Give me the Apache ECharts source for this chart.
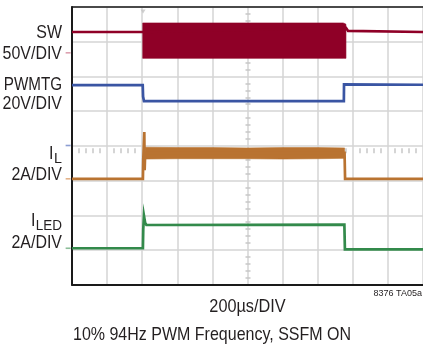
<!DOCTYPE html>
<html>
<head>
<meta charset="utf-8">
<script src="https://cdn.jsdelivr.net/npm/echarts@6/dist/echarts.min.js"></script>
<style>
html,body{margin:0;padding:0;background:#fff;}
#chart{width:423px;height:348px;}
</style>
</head>
<body>
<div id="chart"></div>
<script>
// ---- axis setup (time in µs, vertical in screen divisions) ----
const usPerDiv = 200;
const timeMin = 0, timeMax = 2000;
const divMin = 0, divMax = 8;
const triggerTime = 405;

// ---- SW (50V/DIV) ----
const swTime  = [0, 403, 1561, 1566, 1573, 1582, 2000];
const swLevel = [7.28, 7.28, 7.40, 7.38, 7.31, 7.28, 7.28];
const swBurstTime   = [403, 1545, 1556, 1561];
const swBurstTop    = [7.54, 7.54, 7.52, 7.50];
const swBurstBottom = [6.52, 6.52, 6.52, 6.52];
const swGround = 6.68;

// ---- PWMTG (20V/DIV) ----
const pwmTime  = [0, 403, 405, 410, 1549, 1550, 1554, 2000];
const pwmLevel = [5.75, 5.75, 5.42, 5.29, 5.29, 5.77, 5.76, 5.76];
const pwmGround = 4.01;

// ---- IL (2A/DIV) ----
const ilTime  = [0, 404, 406, 412, 414, 417, 1553, 1556, 2000];
const ilLevel = [3.05, 3.05, 3.60, 4.40, 3.30, 3.80, 3.80, 3.05, 3.05];
const ilBandTime   = [417, 600, 800, 1000, 1200, 1400, 1553];
const ilBandTop    = [3.96, 3.95, 3.95, 3.94, 3.95, 3.95, 3.94];
const ilBandBottom = [3.62, 3.63, 3.63, 3.63, 3.62, 3.63, 3.64];
const ilGround = 3.05;

// ---- ILED (2A/DIV) ----
const ledTime  = [0, 404, 406, 410, 413, 417, 424, 432, 1552, 1555, 2000];
const ledLevel = [1.05, 1.05, 1.60, 1.99, 1.95, 1.78, 1.72, 1.73, 1.73, 1.02, 1.02];
const ledGround = 1.05;

// ---- texts ----
const channelLabels = ['SW', '50V/DIV', 'PWMTG', '20V/DIV', 'I', 'L', '2A/DIV', 'I', 'LED', '2A/DIV'];
const xTitle = '200µs/DIV';
const caption = '10% 94Hz PWM Frequency, SSFM ON';
const figId = '8376 TA05a';

const colors = { sw: '#8f0027', pwm: '#3a55a3', il: '#b97331', led: '#338a4b' };
const markerColors = ['#d48a9c', '#6f86c8', '#dca06e', '#6fae80'];

const zip = (a, b) => a.map((v, i) => [v, b[i]]);

function lineSeries(t, v, color) {
  return {
    type: 'line', data: zip(t, v), showSymbol: false, symbol: 'none',
    lineStyle: { color: color, width: 2.7, join: 'miter' }, animation: false, z: 3
  };
}
function bandSeries(t, top, bottom, color) {
  return {
    type: 'custom', animation: false, z: 3,
    data: t.map((x, i) => [x, top[i], bottom[i]]),
    renderItem: function (params, api) {
      if (params.dataIndex !== 0) return null;
      const n = t.length, pts = [];
      for (let i = 0; i < n; i++) pts.push(api.coord([api.value(0, i), api.value(1, i)]));
      for (let i = n - 1; i >= 0; i--) pts.push(api.coord([api.value(0, i), api.value(2, i)]));
      return { type: 'polygon', shape: { points: pts }, style: { fill: color, stroke: color, lineWidth: 0.6 } };
    }
  };
}

const fam = '"Liberation Sans", Arial, sans-serif';
const labelFont = '19px ' + fam;
const subFont = '15px ' + fam;
const bottomFont = '18.5px ' + fam;
const txtColor = '#231f20';
function txt(text, x, y, font, align, sx) {
  return { type: 'text', x: x, y: y, scaleX: sx, silent: true, z: 10,
    style: { text: text, font: font, fill: txtColor, textAlign: align, textVerticalAlign: 'middle', verticalAlign: 'middle' } };
}

const gridLine = { color: '#d4d4d4', width: 1.5 };
const chart = echarts.init(document.getElementById('chart'), null, { renderer: 'canvas' });
chart.setOption({
  animation: false,
  backgroundColor: '#fff',
  grid: { left: 72, top: 7, width: 352, height: 277.7, show: false },
  xAxis: [
    { type: 'value', min: timeMin, max: timeMax, interval: usPerDiv,
      axisLine: { show: true, lineStyle: { color: '#1a1a1a', width: 2 } },
      axisTick: { show: false }, axisLabel: { show: false },
      splitLine: { show: true, lineStyle: gridLine } },
    { type: 'value', min: timeMin, max: timeMax, interval: usPerDiv, position: 'bottom', offset: -141.35,
      axisLine: { show: false }, axisTick: { show: false }, axisLabel: { show: false }, splitLine: { show: false },
      minorTick: { show: true, splitNumber: 5, length: 5, lineStyle: { color: '#c8c8c8', width: 1.5 } } },
    { type: 'value', min: timeMin, max: timeMax, interval: usPerDiv, position: 'top',
      axisLine: { show: true, lineStyle: { color: '#1a1a1a', width: 1.5 } },
      axisTick: { show: false }, axisLabel: { show: false }, splitLine: { show: false } }
  ],
  yAxis: [
    { type: 'value', min: divMin, max: divMax, interval: 1,
      axisLine: { show: true, lineStyle: { color: '#1a1a1a', width: 2 } },
      axisTick: { show: false }, axisLabel: { show: false },
      splitLine: { show: true, lineStyle: gridLine } },
    { type: 'value', min: divMin, max: divMax, interval: 1, position: 'left', offset: -178.5,
      axisLine: { show: false }, axisTick: { show: false }, axisLabel: { show: false }, splitLine: { show: false },
      minorTick: { show: true, splitNumber: 5, length: 5, lineStyle: { color: '#c8c8c8', width: 1.5 } } }
  ],
  series: [
    bandSeries(swBurstTime, swBurstTop, swBurstBottom, colors.sw),
    lineSeries(swTime, swLevel, colors.sw),
    lineSeries(pwmTime, pwmLevel, colors.pwm),
    bandSeries(ilBandTime, ilBandTop, ilBandBottom, colors.il),
    lineSeries(ilTime, ilLevel, colors.il),
    lineSeries(ledTime, ledLevel, colors.led),
    { type: 'scatter', clip: false, symbol: 'rect', symbolSize: [5, 1.6], animation: false, silent: true,
      data: [[-22, swGround], [-22, pwmGround], [-22, ilGround], [-22, ledGround]],
      itemStyle: { color: (p) => markerColors[p.dataIndex] } },
    { type: 'scatter', clip: false, symbol: 'triangle', symbolRotate: 180, symbolSize: [5, 4],
      animation: false, silent: true, z: 1,
      data: [[triggerTime, 7.87]], itemStyle: { color: '#c4c4c4' } }
  ],
  graphic: [
    txt(channelLabels[0], 62, 32.5, labelFont, 'right', 0.84),
    txt(channelLabels[1], 62, 53.5, labelFont, 'right', 0.84),
    txt(channelLabels[2], 62, 85, labelFont, 'right', 0.8),
    txt(channelLabels[3], 62, 104, labelFont, 'right', 0.84),
    txt(channelLabels[4], 53.5, 154, labelFont, 'right', 0.84),
    txt(channelLabels[5], 62, 158.5, subFont, 'right', 0.95),
    txt(channelLabels[6], 62, 174.5, labelFont, 'right', 0.84),
    txt(channelLabels[7], 35.5, 221, labelFont, 'right', 0.84),
    txt(channelLabels[8], 62, 225.5, subFont, 'right', 0.9),
    txt(channelLabels[9], 62, 243, labelFont, 'right', 0.84),
    txt(xTitle, 247.5, 306.5, bottomFont, 'center', 0.88),
    txt(caption, 73, 335, bottomFont, 'left', 0.865),
    txt(figId, 422, 293.5, '9.5px ' + fam, 'right', 0.95)
  ]
});
</script>
</body>
</html>
